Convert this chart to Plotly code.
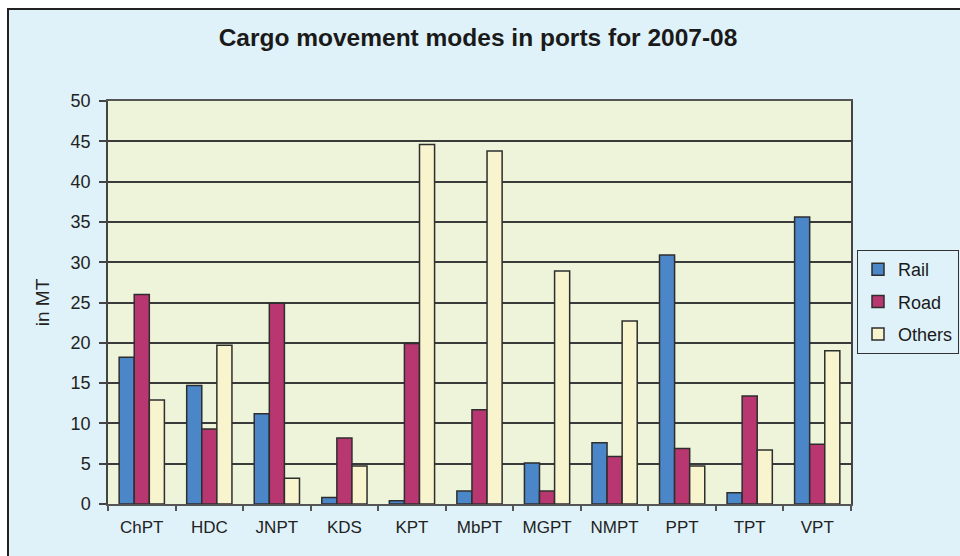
import plotly.graph_objects as go

ports = ["ChPT", "HDC", "JNPT", "KDS", "KPT", "MbPT", "MGPT", "NMPT", "PPT", "TPT", "VPT"]
rail = [18.2, 14.7, 11.2, 0.8, 0.4, 1.6, 5.1, 7.6, 30.9, 1.4, 35.6]
road = [26.0, 9.3, 24.9, 8.2, 19.9, 11.7, 1.6, 5.9, 6.9, 13.4, 7.4]
others = [12.9, 19.7, 3.2, 4.7, 44.6, 43.8, 28.9, 22.7, 4.7, 6.7, 19.0]
y_ticks = [0, 5, 10, 15, 20, 25, 30, 35, 40, 45, 50]

FONT = "Arial, Liberation Sans, sans-serif"
EDGE = dict(color="#2e2e2e", width=1.5)

fig = go.Figure()
fig.add_trace(go.Bar(name="Rail", x=ports, y=rail, legendgroup="a",
                     marker=dict(color="#4A86C8", line=EDGE)))
fig.add_trace(go.Bar(name="Road", x=ports, y=road, legendgroup="b",
                     marker=dict(color="#B83770", line=EDGE)))
fig.add_trace(go.Bar(name="Others", x=ports, y=others, legendgroup="c",
                     marker=dict(color="#F8F4CD", line=EDGE)))

W, H = 960, 556
L, R, T, B = 108, 109, 101, 52
pw, ph = W - L - R, H - T - B

def px_x(px):
    return (px - L) / pw

def px_y(py):
    return (H - B - py) / ph

fig.update_layout(
    width=W, height=H, autosize=False,
    margin=dict(l=L, r=R, t=T, b=B, pad=0, autoexpand=False),
    paper_bgcolor="#E0F2F9",
    plot_bgcolor="#EDF4D9",
    barmode="group",
    bargap=0.33,
    bargroupgap=0,
    font=dict(family=FONT, color="#222222"),
    title=dict(text="<b>Cargo movement modes in ports for 2007-08</b>",
               x=478 / W, xref="container", xanchor="center",
               y=1 - 37 / H, yref="container", yanchor="middle",
               font=dict(size=24.5, family=FONT, color="#1a1a1a")),
    legend=dict(x=857 / W, xref="container", y=1 - 250 / H, yref="container",
                xanchor="left", yanchor="top",
                bgcolor="#E0F2F9", bordercolor="#333333", borderwidth=1,
                font=dict(size=18, family=FONT, color="#1a1a1a"),
                traceorder="grouped", tracegroupgap=6,
                itemwidth=30),
    showlegend=True,
)

fig.update_xaxes(
    showline=True, linecolor="#555555", linewidth=1.5, mirror=True,
    ticks="outside", tickson="boundaries", ticklen=5, tickcolor="#555555", tickwidth=1.5,
    tickfont=dict(size=17, family=FONT, color="#222222"),
    ticklabelstandoff=7,
    showgrid=False,
)
fig.update_yaxes(
    range=[0, 50], tickvals=y_ticks,
    showline=True, linecolor="#444444", linewidth=1.5, mirror=True,
    ticks="outside", ticklen=7, tickcolor="#444444", tickwidth=1.5,
    tickfont=dict(size=18, family=FONT, color="#222222"),
    ticklabelstandoff=5,
    showgrid=True, gridcolor="#3a3a3a", gridwidth=1.5,
    zeroline=False,
    title=dict(text="in MT", font=dict(size=19, family=FONT, color="#222222"), standoff=16),
)

# white margins outside the frame
fig.add_shape(type="rect", xref="paper", yref="paper",
              x0=px_x(-5), x1=px_x(7), y0=px_y(565), y1=px_y(-5),
              fillcolor="white", line=dict(width=0), layer="above")
fig.add_shape(type="rect", xref="paper", yref="paper",
              x0=px_x(-5), x1=px_x(965), y0=px_y(8), y1=px_y(-5),
              fillcolor="white", line=dict(width=0), layer="above")
# outer frame
fig.add_shape(type="rect", xref="paper", yref="paper",
              x0=px_x(8), x1=px_x(970), y0=px_y(570), y1=px_y(9),
              fillcolor="rgba(0,0,0,0)", line=dict(color="#222222", width=2), layer="above")

post = (
    "document.documentElement.style.margin='0';"
    "document.body.style.margin='0';"
    "document.body.style.overflow='hidden';"
    "document.documentElement.style.overflow='hidden';"
    "var gd=document.getElementById('{plot_id}');"
    "gd.style.width='960px';gd.style.height='556px';"
    "Plotly.relayout(gd,{autosize:false,width:960,height:556});"
)

fig.write_html("out.html", post_script=post, config={"displayModeBar": False})
